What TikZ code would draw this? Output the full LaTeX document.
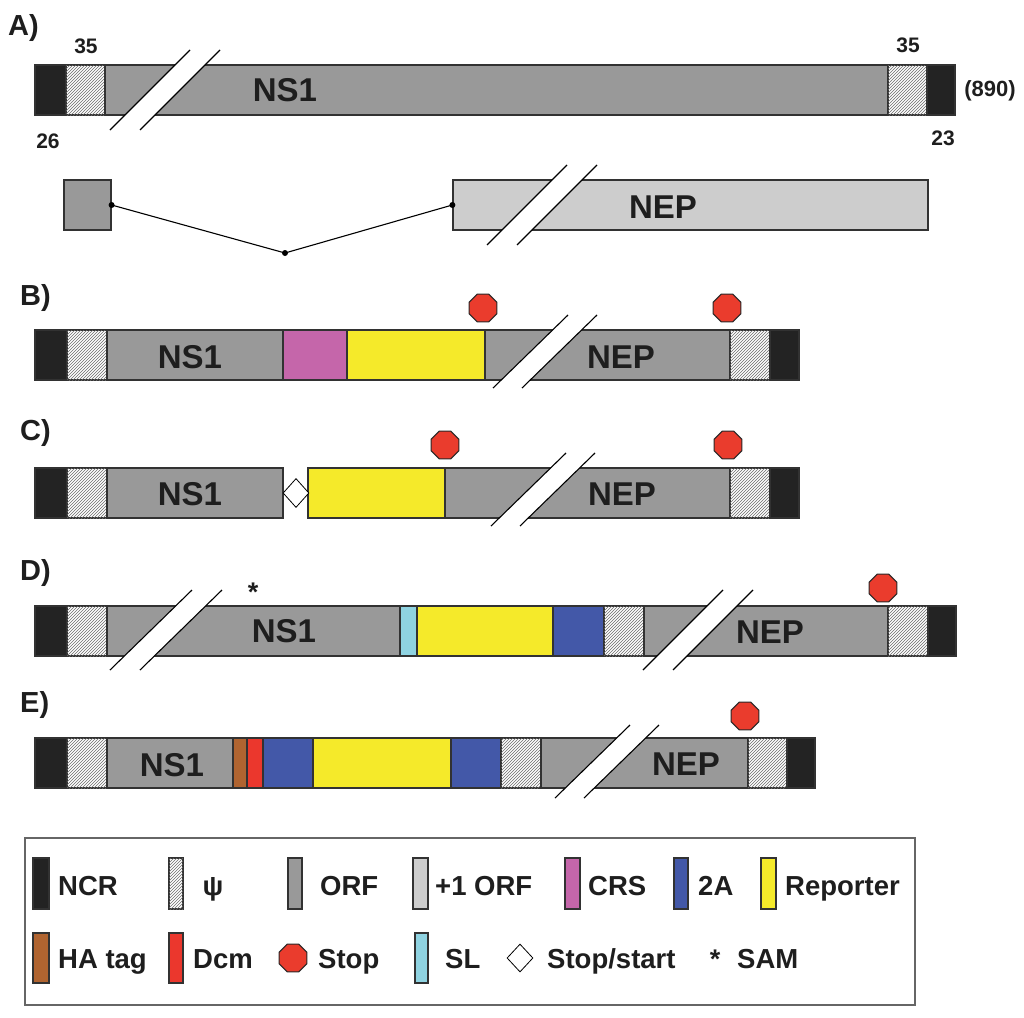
\documentclass[tikz,border=0pt]{standalone}
\usepackage{fontspec}
\setmainfont{Liberation Sans}
\usetikzlibrary{patterns,shapes.geometric}
\definecolor{ncrc}{RGB}{35,35,35}
\definecolor{orfc}{RGB}{153,153,153}
\definecolor{orfpc}{RGB}{205,205,205}
\definecolor{crsc}{RGB}{197,102,170}
\definecolor{tac}{RGB}{67,88,168}
\definecolor{repc}{RGB}{245,234,42}
\definecolor{hac}{RGB}{176,100,48}
\definecolor{dcmc}{RGB}{235,55,45}
\definecolor{stopc}{RGB}{234,60,45}
\definecolor{slc}{RGB}{143,211,225}
\definecolor{edge}{RGB}{50,50,50}
\definecolor{txt}{RGB}{30,30,30}
\newcommand\fsz[1]{\fontsize{#1}{#1}\selectfont\bfseries}
\newcommand\seg[4]{\path[#1] (#2,#4) rectangle (#3,#4+50);}
\newcommand\brk[5]{%
  \fill[white] (#1,#2) -- (#3,#4) -- (#3+#5,#4) -- (#1+#5,#2) -- cycle;
  \draw[black,line width=1.1pt] (#1,#2) -- (#3,#4);
  \draw[black,line width=1.1pt] (#1+#5,#2) -- (#3+#5,#4);}
\tikzset{
  base/.style={draw=edge,line width=1.2pt},
  ncr/.style={base,fill=ncrc},
  orf/.style={base,fill=orfc},
  orfp/.style={base,fill=orfpc},
  crs/.style={base,fill=crsc},
  ta/.style={base,fill=tac},
  rep/.style={base,fill=repc},
  ha/.style={base,fill=hac},
  dcm/.style={base,fill=dcmc},
  sl/.style={base,fill=slc},
  hatch/.style={base,fill=white,postaction={pattern=north east lines,pattern color=gray!85!black}},
  stopsign/.style={regular polygon,regular polygon sides=8,minimum size=30pt,inner sep=0pt,fill=stopc,draw=edge!80!black,line width=1pt},
  stopstart/.style={diamond,minimum width=26pt,minimum height=29pt,inner sep=0pt,fill=white,draw=black,line width=0.8pt},
  barlbl/.style={text=txt,font=\fsz{33pt},inner sep=0pt},
  panel/.style={text=txt,font=\fsz{29pt},inner sep=0pt,anchor=base west},
  num/.style={text=txt,font=\fsz{21pt},inner sep=0pt,anchor=base},
  leg/.style={text=txt,font=\fsz{27.5pt},inner sep=0pt,anchor=base west},
  ast/.style={text=txt,font=\fsz{27pt},inner sep=0pt,anchor=base},
  dot/.style={circle,fill=black,inner sep=0pt,minimum size=6pt}
}
\begin{document}
\begin{tikzpicture}[x=1pt,y=-1pt]
\useasboundingbox (0,0) rectangle (1024,1017);
% ---------------- A
\node[panel] (lA) at (8,35) {A)};
\seg{ncr}{35}{66}{65}
\seg{hatch}{66}{105}{65}
\seg{orf}{105}{888}{65}
\seg{hatch}{888}{927}{65}
\seg{ncr}{927}{955}{65}
\brk{110}{130}{190}{50}{30}
\node[barlbl] (ns1A) at (285,90) {NS1};
\node[num] (n35a) at (86,53) {35};
\node[num] (n26) at (48,148) {26};
\node[num] (n35b) at (908,52) {35};
\node[num] (n23) at (943,145) {23};
\node[text=txt,font=\fsz{22pt},inner sep=0pt] (n890) at (990,91) {(890)};
% A spliced
\node[base,fill=orfc,minimum width=47pt,minimum height=50pt,inner sep=0pt] (ex1) at (87.5,205) {};
\node[base,fill=orfpc,minimum width=475pt,minimum height=50pt,inner sep=0pt] (ex2) at (690.5,205) {};
\brk{487}{245}{567}{165}{30}
\node[barlbl] (nepA) at (663,207) {NEP};
\coordinate (intr) at (285,253);
\draw[black,line width=1.1pt] (ex1.east) -- (intr) -- (ex2.west);
\node[dot] at (ex1.east) {};
\node[dot] at (intr) {};
\node[dot] at (ex2.west) {};
% ---------------- B
\node[panel] (lB) at (20,305) {B)};
\seg{ncr}{35}{67}{330}
\seg{hatch}{67}{107}{330}
\seg{orf}{107}{283}{330}
\seg{crs}{283}{347}{330}
\seg{rep}{347}{485}{330}
\seg{orf}{485}{730}{330}
\seg{hatch}{730}{770}{330}
\seg{ncr}{770}{799}{330}
\brk{493}{388}{568}{315}{29}
\node[barlbl] (ns1B) at (190,357) {NS1};
\node[barlbl] (nepB) at (621,357) {NEP};
\node[stopsign] (sB1) at (483,308) {};
\node[stopsign] (sB2) at (727,308) {};
% ---------------- C
\node[panel] (lC) at (20,440) {C)};
\seg{ncr}{35}{67}{468}
\seg{hatch}{67}{107}{468}
\seg{orf}{107}{283}{468}
\seg{rep}{308}{445}{468}
\seg{orf}{445}{730}{468}
\seg{hatch}{730}{770}{468}
\seg{ncr}{770}{799}{468}
\node[stopstart] (dC) at (296,493) {};
\brk{491}{526}{566}{453}{29}
\node[barlbl] (ns1C) at (190,494) {NS1};
\node[barlbl] (nepC) at (622,494) {NEP};
\node[stopsign] (sC1) at (445,445) {};
\node[stopsign] (sC2) at (728,445) {};
% ---------------- D
\node[panel] (lD) at (20,580) {D)};
\seg{ncr}{35}{67}{606}
\seg{hatch}{67}{107}{606}
\seg{orf}{107}{400}{606}
\seg{sl}{400}{417}{606}
\seg{rep}{417}{553}{606}
\seg{ta}{553}{604}{606}
\seg{hatch}{604}{644}{606}
\seg{orf}{644}{888}{606}
\seg{hatch}{888}{928}{606}
\seg{ncr}{928}{956}{606}
\brk{110}{670}{192}{590}{30}
\brk{643}{670}{723}{590}{30}
\node[barlbl] (ns1D) at (284,631) {NS1};
\node[barlbl] (nepD) at (770,632) {NEP};
\node[stopsign] (sD) at (883,588) {};
\node[ast] (samD) at (253,601) {*};
% ---------------- E
\node[panel] (lE) at (20,712) {E)};
\seg{ncr}{35}{67}{738}
\seg{hatch}{67}{107}{738}
\seg{orf}{107}{233}{738}
\seg{ha}{233}{247}{738}
\seg{dcm}{247}{263}{738}
\seg{ta}{263}{313}{738}
\seg{rep}{313}{451}{738}
\seg{ta}{451}{501}{738}
\seg{hatch}{501}{541}{738}
\seg{orf}{541}{748}{738}
\seg{hatch}{748}{787}{738}
\seg{ncr}{787}{815}{738}
\brk{555}{798}{630}{725}{29}
\node[barlbl] (ns1E) at (172,765) {NS1};
\node[barlbl] (nepE) at (686,764) {NEP};
\node[stopsign] (sE) at (745,716) {};
% ---------------- Legend
\draw[draw=gray!80!black,line width=1.3pt] (25,838) rectangle (915,1005);
\path[ncr] (33,858) rectangle (49,909);
\node[leg] (tNCR) at (58,895) {NCR};
\path[hatch] (169,858) rectangle (183,909);
\node[text=txt,font=\fsz{27.5pt},inner sep=0pt,anchor=base] (tPsi) at (213,895) {ψ};
\path[orf] (288,858) rectangle (302,909);
\node[leg] (tORF) at (320,895) {ORF};
\path[orfp] (413,858) rectangle (428,909);
\node[leg] (tORFp) at (435,895) {+1 ORF};
\path[crs] (565,858) rectangle (580,909);
\node[leg] (tCRS) at (588,895) {CRS};
\path[ta] (674,858) rectangle (688,909);
\node[leg] (tTA) at (698,895) {2A};
\path[rep] (761,858) rectangle (776,909);
\node[leg] (tRep) at (785,895) {Reporter};
\path[ha] (33,933) rectangle (49,983);
\node[leg] (tHA) at (58,968) {HA tag};
\path[dcm] (169,933) rectangle (183,983);
\node[leg] (tDcm) at (193,968) {Dcm};
\node[stopsign] (sL) at (293,958) {};
\node[leg] (tStop) at (318,968) {Stop};
\path[sl] (415,933) rectangle (428,983);
\node[leg] (tSL) at (445,968) {SL};
\node[stopstart,minimum height=28pt] (dL) at (520,958) {};
\node[leg] (tSS) at (547,968) {Stop/start};
\node[ast] (tAst) at (715,968) {*};
\node[leg] (tSAM) at (737,968) {SAM};
\end{tikzpicture}
\end{document}
